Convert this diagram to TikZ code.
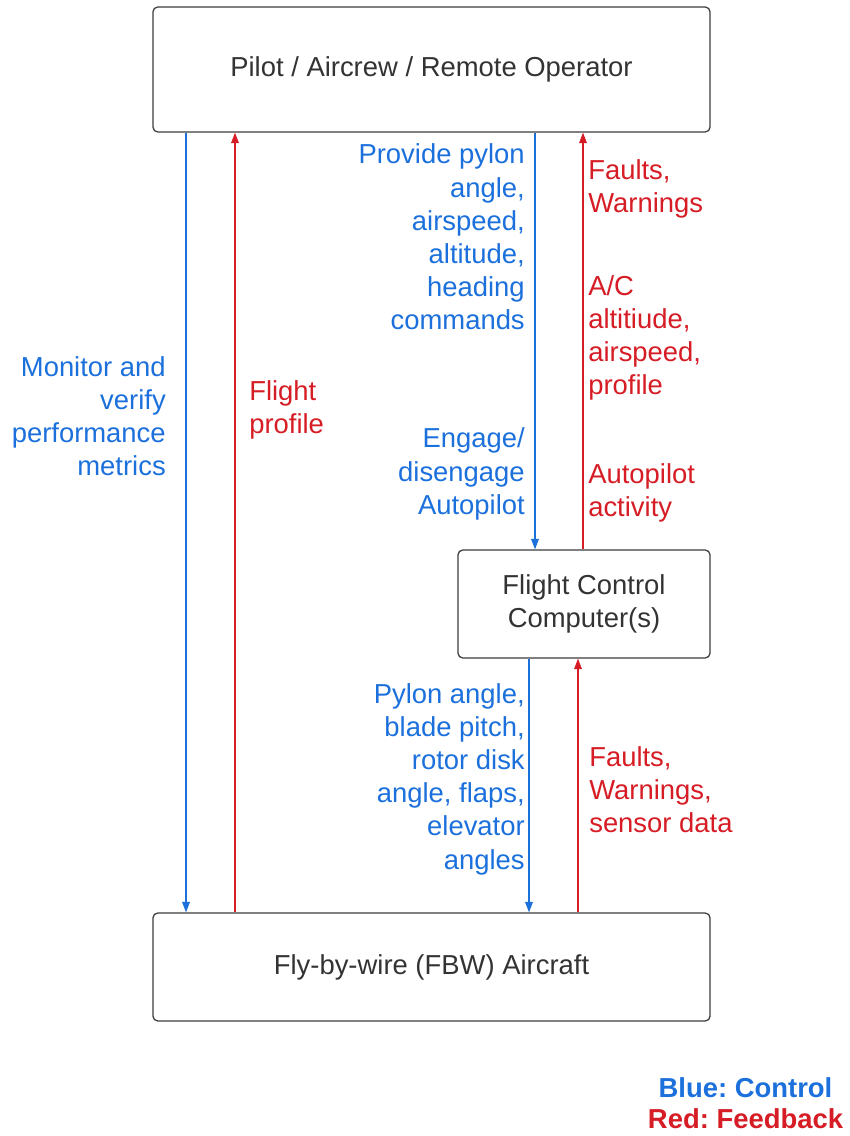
\documentclass[tikz,border=0pt]{standalone}
\usepackage{fontspec}
\setmainfont{Liberation Sans}
\usetikzlibrary{arrows.meta}
\definecolor{ctrlblue}{RGB}{27,112,220}
\definecolor{fbred}{RGB}{214,28,36}
\definecolor{boxgray}{RGB}{60,60,60}
\definecolor{txtgray}{RGB}{51,51,51}
\frenchspacing

\begin{document}
\begin{tikzpicture}[
        x=0.025cm, y=-0.025cm,
        every node/.style={font=\fontsize{19.5}{23.6}\selectfont},
        block/.style={draw=boxgray, line width=0.9pt, rounded corners=3.5pt, text=txtgray, align=center, inner sep=0pt},
        ctrl/.style={draw=ctrlblue, line width=0.8pt, -{Triangle[length=7.5pt,width=5.5pt]}},
        fback/.style={draw=fbred, line width=0.8pt, -{Triangle[length=7.5pt,width=5.5pt]}},
        ctrllbl/.style={text=ctrlblue, align=right, anchor=east, inner sep=0pt},
        fbacklbl/.style={text=fbred, align=left, anchor=west, inner sep=0pt}
    ]
        \useasboundingbox (0,0) rectangle (849,1136);

        % Blocchi
        \node[block, minimum width=13.925cm, minimum height=3.125cm] (pilot) at (431.5,69.5) {Pilot / Aircrew / Remote Operator};
        \node[block, minimum width=6.3cm, minimum height=2.7cm] (fcc) at (584,604) {Flight Control\\Computer(s)};
        \node[block, minimum width=13.925cm, minimum height=2.7cm] (fbw) at (431.5,967) {Fly-by-wire (FBW) Aircraft};

        % Posizioni delle frecce
        \coordinate (xmon) at (186,0);
        \coordinate (xprof) at (235,0);
        \coordinate (xcmd) at (535,0);
        \coordinate (xact) at (583,0);
        \coordinate (xsurf) at (529,0);
        \coordinate (xsens) at (578,0);

        % Frecce
        \draw[ctrl] (pilot.south -| xmon) -- (fbw.north -| xmon);
        \draw[fback] (fbw.north -| xprof) -- (pilot.south -| xprof);
        \draw[ctrl] (pilot.south -| xcmd) -- (fcc.north -| xcmd);
        \draw[fback] (fcc.north -| xact) -- (pilot.south -| xact);
        \draw[ctrl] (fcc.south -| xsurf) -- (fbw.north -| xsurf);
        \draw[fback] (fbw.north -| xsens) -- (fcc.south -| xsens);

        % Etichette di controllo (blu)
        \node[ctrllbl] (monitor) at (166,416) {Monitor and\\verify\\performance\\metrics};
        \node[ctrllbl] (cmds) at (525,237) {Provide pylon\\angle,\\airspeed,\\altitude,\\heading\\commands};
        \node[ctrllbl] (engage) at (525,474) {Engage/\\disengage\\Autopilot};
        \node[ctrllbl] (surf) at (525,779) {Pylon angle,\\blade pitch,\\rotor disk\\angle, flaps,\\elevator\\angles};

        % Etichette di feedback (rosse)
        \node[fbacklbl] (profile) at (249,410) {Flight\\profile};
        \node[fbacklbl] (faults) at (588,189) {Faults,\\Warnings};
        \node[fbacklbl] (acstate) at (588,338) {A/C\\altitiude,\\airspeed,\\profile};
        \node[fbacklbl] (activity) at (588,493) {Autopilot\\activity};
        \node[fbacklbl] (sensors) at (589,790) {Faults,\\Warnings,\\sensor data};

        % Legenda
        \node[align=center, inner sep=0pt, font=\fontsize{19.5}{22}\selectfont\bfseries] (legend) at (745.5,1103)
            {\textcolor{ctrlblue}{Blue: Control}\\\textcolor{fbred}{Red: Feedback}};

    \end{tikzpicture}
\end{document}
